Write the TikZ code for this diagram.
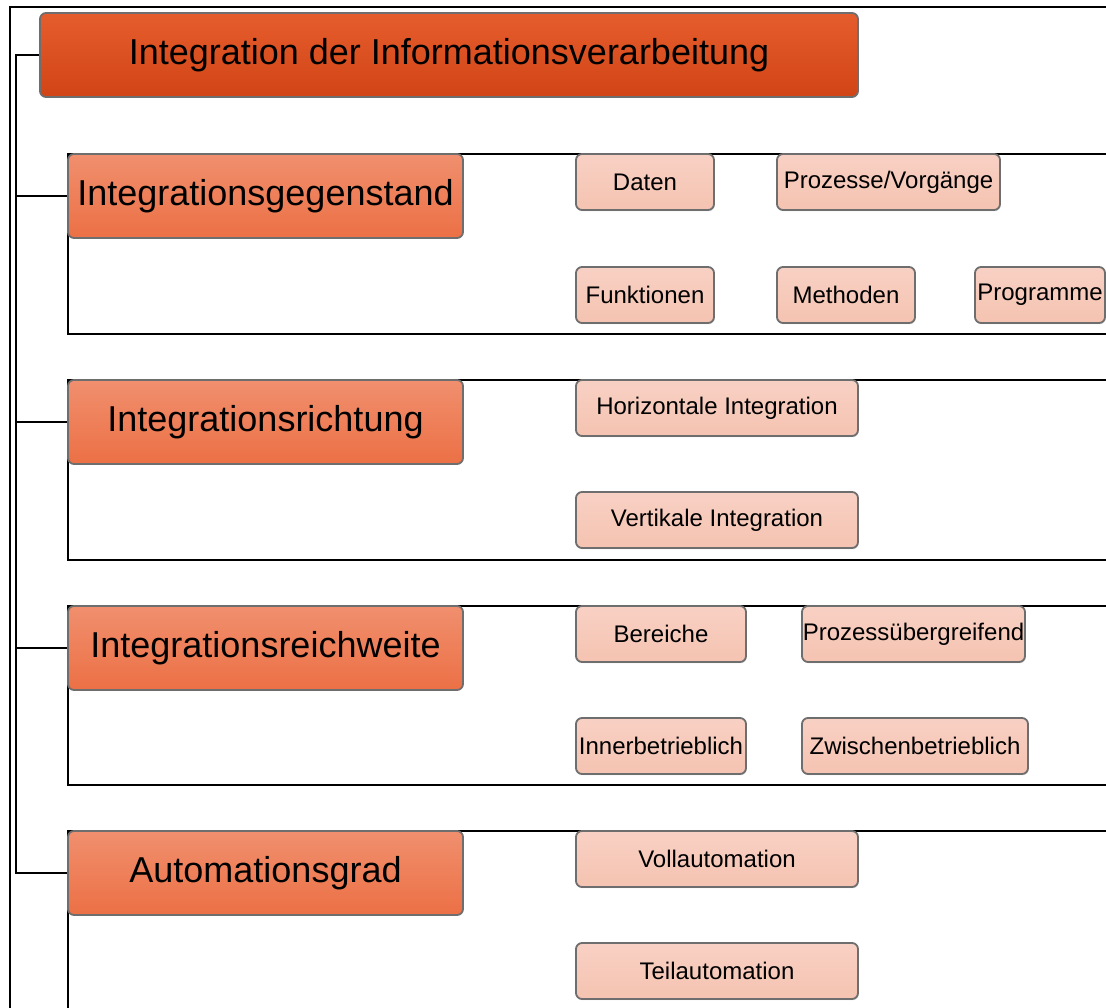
\documentclass[tikz,border=0pt]{standalone}
\usepackage{fontspec}
\setmainfont{Liberation Sans}
\usetikzlibrary{shadows}
\definecolor{edgegray}{HTML}{6E6E6E}
\definecolor{rootA}{HTML}{E65D2D}
\definecolor{rootB}{HTML}{D14416}
\definecolor{catA}{HTML}{F08F6E}
\definecolor{catB}{HTML}{EC7045}
\definecolor{leafA}{HTML}{F8D1C4}
\definecolor{leafB}{HTML}{F5C3B1}
\begin{document}
\begin{tikzpicture}[x=1pt,y=-1pt,
  box/.style={draw=edgegray, line width=1.8pt, rounded corners=6pt, inner sep=0pt, align=center},
  rootbox/.style={box, top color=rootA, bottom color=rootB, minimum width=818pt, minimum height=84pt, font=\fontsize{36}{40}\selectfont},
  catbox/.style={box, top color=catA, bottom color=catB, minimum width=395pt, minimum height=84pt, font=\fontsize{36}{40}\selectfont},
  leafbox/.style={box, top color=leafA, bottom color=leafB, minimum height=56pt, font=\fontsize{24}{28}\selectfont,
    drop shadow={shadow xshift=0.8pt, shadow yshift=-1.2pt, fill=black!25, opacity=0.5}},
  link/.style={draw=black, line width=1.3pt},
  groupframe/.style={draw=black, line width=1.3pt}]

\useasboundingbox (0,0) rectangle (1106,1008);
\clip (0,0) rectangle (1106,1008);
\fill[white] (0,0) rectangle (1106,1008);

% outer border
\draw[line width=2.8pt] (10,1010) -- (10,7) -- (1110,7);

% group frames (open to the right)
\draw[groupframe] (1110,154) -| (68,334) -- (1110,334);
\draw[groupframe] (1110,380) -| (68,560) -- (1110,560);
\draw[groupframe] (1110,606) -| (68,785) -- (1110,785);
\draw[groupframe] (1110,831) -| (68,1012);

% root and categories
\node[rootbox] (root) at (449,55) {Integration der Informationsverarbeitung};
\node[catbox] (c1) at (265.5,196) {Integrationsgegenstand};
\node[catbox] (c2) at (265.5,422) {Integrationsrichtung};
\node[catbox] (c3) at (265.5,648) {Integrationsreichweite};
\node[catbox] (c4) at (265.5,873) {Automationsgrad};

% tree connectors
\coordinate (trunk) at (16,55);
\draw[link] (root.west) -- (trunk) |- (c4.west);
\draw[link] (c1.west) -- (c1.west -| trunk);
\draw[link] (c2.west) -- (c2.west -| trunk);
\draw[link] (c3.west) -- (c3.west -| trunk);

% Integrationsgegenstand
\node[leafbox, minimum width=138pt] (daten) at (645,182) {Daten};
\node[leafbox, minimum width=223pt] (prozesse) at (888.5,182) {Prozesse/Vorgänge};
\node[leafbox, minimum width=138pt] (funktionen) at (645,295) {Funktionen};
\node[leafbox, minimum width=138pt] (methoden) at (846,295) {Methoden};
\node[leafbox, minimum width=130pt] (programme) at (1040,295) {Programme};

% Integrationsrichtung
\node[leafbox, minimum width=282pt] (horizontal) at (717,408) {Horizontale Integration};
\node[leafbox, minimum width=282pt] (vertikal) at (717,520) {Vertikale Integration};

% Integrationsreichweite
\node[leafbox, minimum width=170pt] (bereiche) at (661,634) {Bereiche};
\node[leafbox, minimum width=223pt] (uebergreifend) at (913.5,634) {Prozessübergreifend};
\node[leafbox, minimum width=170pt] (inner) at (661,746) {Innerbetrieblich};
\node[leafbox, minimum width=226pt] (zwischen) at (915,746) {Zwischenbetrieblich};

% Automationsgrad
\node[leafbox, minimum width=282pt] (voll) at (717,859) {Vollautomation};
\node[leafbox, minimum width=282pt] (teil) at (717,971) {Teilautomation};
\end{tikzpicture}
\end{document}
